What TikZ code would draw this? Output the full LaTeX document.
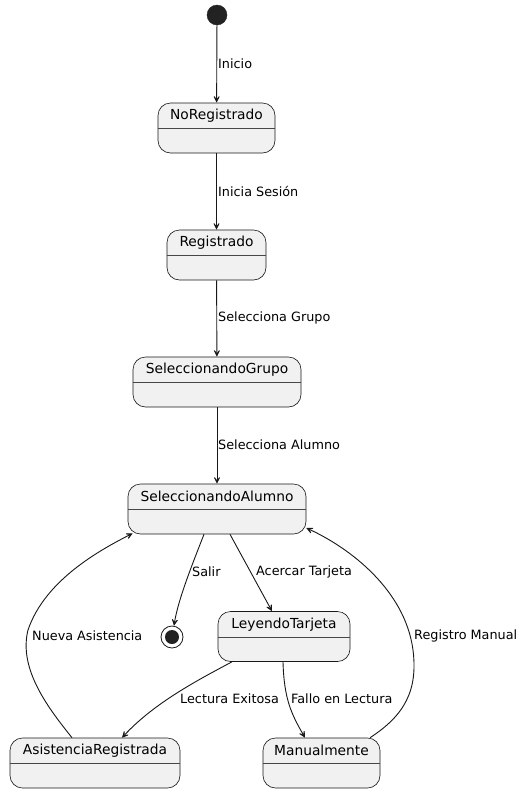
\documentclass[tikz,border=0pt]{standalone}
\usepackage{fontspec}
\setmainfont{DejaVu Sans}
\usetikzlibrary{arrows.meta}
\definecolor{stfill}{HTML}{F1F1F1}
\definecolor{stline}{HTML}{181818}
\definecolor{dot}{HTML}{222222}
\tikzset{
  st/.style={draw=stline, fill=stfill, line width=0.6pt, rounded corners=12.5pt, rectangle, minimum height=50pt, inner sep=0pt},
  ttl/.style={font=\fontsize{13.8}{16}\selectfont, inner sep=0pt},
  lbl/.style={font=\fontsize{12.8}{15}\selectfont, inner sep=0pt, anchor=west},
  divider/.style={draw=stline!80, line width=0.6pt},
  tr/.style={draw=stline, line width=0.9pt, -{Stealth[length=10pt,width=10pt,inset=6.5pt]}},
}
\newcommand{\mkstate}[5]{% name, cx, cy, width, text
  \node[st, minimum width=#4pt] (#1) at (#2,#3) {};
  \draw[divider] ([yshift=-26pt]#1.north west) -- ([yshift=-26pt]#1.north east);
  \node[ttl] (#1t) at ([yshift=-13pt]#1.north) {#5};
}
\begin{document}
\begin{tikzpicture}[x=1pt,y=-1pt]
\useasboundingbox (0,0) rectangle (523,793);
\fill[white] (0,0) rectangle (523,793);

\node[circle, fill=dot, draw=dot, minimum size=20pt, inner sep=0pt] (ini) at (217,15) {};
\mkstate{noreg}{216.5}{128}{117}{NoRegistrado}
\mkstate{reg}{216.5}{255}{99}{Registrado}
\mkstate{sg}{217}{382}{168}{SeleccionandoGrupo}
\mkstate{sa}{217}{509}{178}{SeleccionandoAlumno}
\mkstate{lt}{284}{636.5}{132}{LeyendoTarjeta}
\mkstate{ma}{321.5}{763}{117}{Manualmente}
\mkstate{ar}{95}{763}{170}{AsistenciaRegistrada}

\node[circle, draw=stline, fill=white, line width=0.8pt, minimum size=22pt, inner sep=0pt] (fin) at (172,637) {};
\node[circle, fill=dot, minimum size=14pt, inner sep=0pt] (finc) at (fin) {};

\draw[tr] (ini) -- (noreg);
\node[lbl] (l1) at (218,64) {Inicio};
\draw[tr] (noreg) -- (reg);
\node[lbl] (l2) at (218,191) {Inicia Sesión};
\draw[tr] (reg) -- (sg);
\node[lbl] (l3) at (218,318) {Selecciona Grupo};
\draw[tr] (sg) -- (sa);
\node[lbl] (l4) at (218,445) {Selecciona Alumno};

\draw[tr] ([xshift=-13pt]sa.south) .. controls (192,565) and (178,600) .. (fin.80);
\node[lbl] (l5) at (192,572) {Salir};

\draw[tr] ([xshift=13pt]sa.south) -- ([xshift=-12pt]lt.north);
\node[lbl] (l6) at (256,572) {Acercar Tarjeta};

\draw[tr] ([xshift=-52pt]lt.south) .. controls (200,679) and (155,702) .. ([xshift=27pt]ar.north);
\node[lbl] (l7) at (180,699) {Lectura Exitosa};

\draw[tr] ([xshift=-1pt]lt.south) .. controls (284,700) and (292,715) .. ([xshift=-16.5pt]ma.north);
\node[lbl] (l8) at (291,699) {Fallo en Lectura};

\draw[tr] ([xshift=48.5pt]ma.north) .. controls (405,715) and (418,690) .. (413,650) .. controls (405,590) and (350,548) .. ([yshift=-19pt]sa.east);
\node[lbl] (l9) at (414,636) {Registro Manual};

\draw[tr] ([xshift=-23pt]ar.north) .. controls (50,710) and (18,670) .. (28,630) .. controls (45,580) and (100,550) .. ([xshift=5pt,yshift=1pt]sa.south west);
\node[lbl] (l10) at (32,636) {Nueva Asistencia};
\end{tikzpicture}
\end{document}
